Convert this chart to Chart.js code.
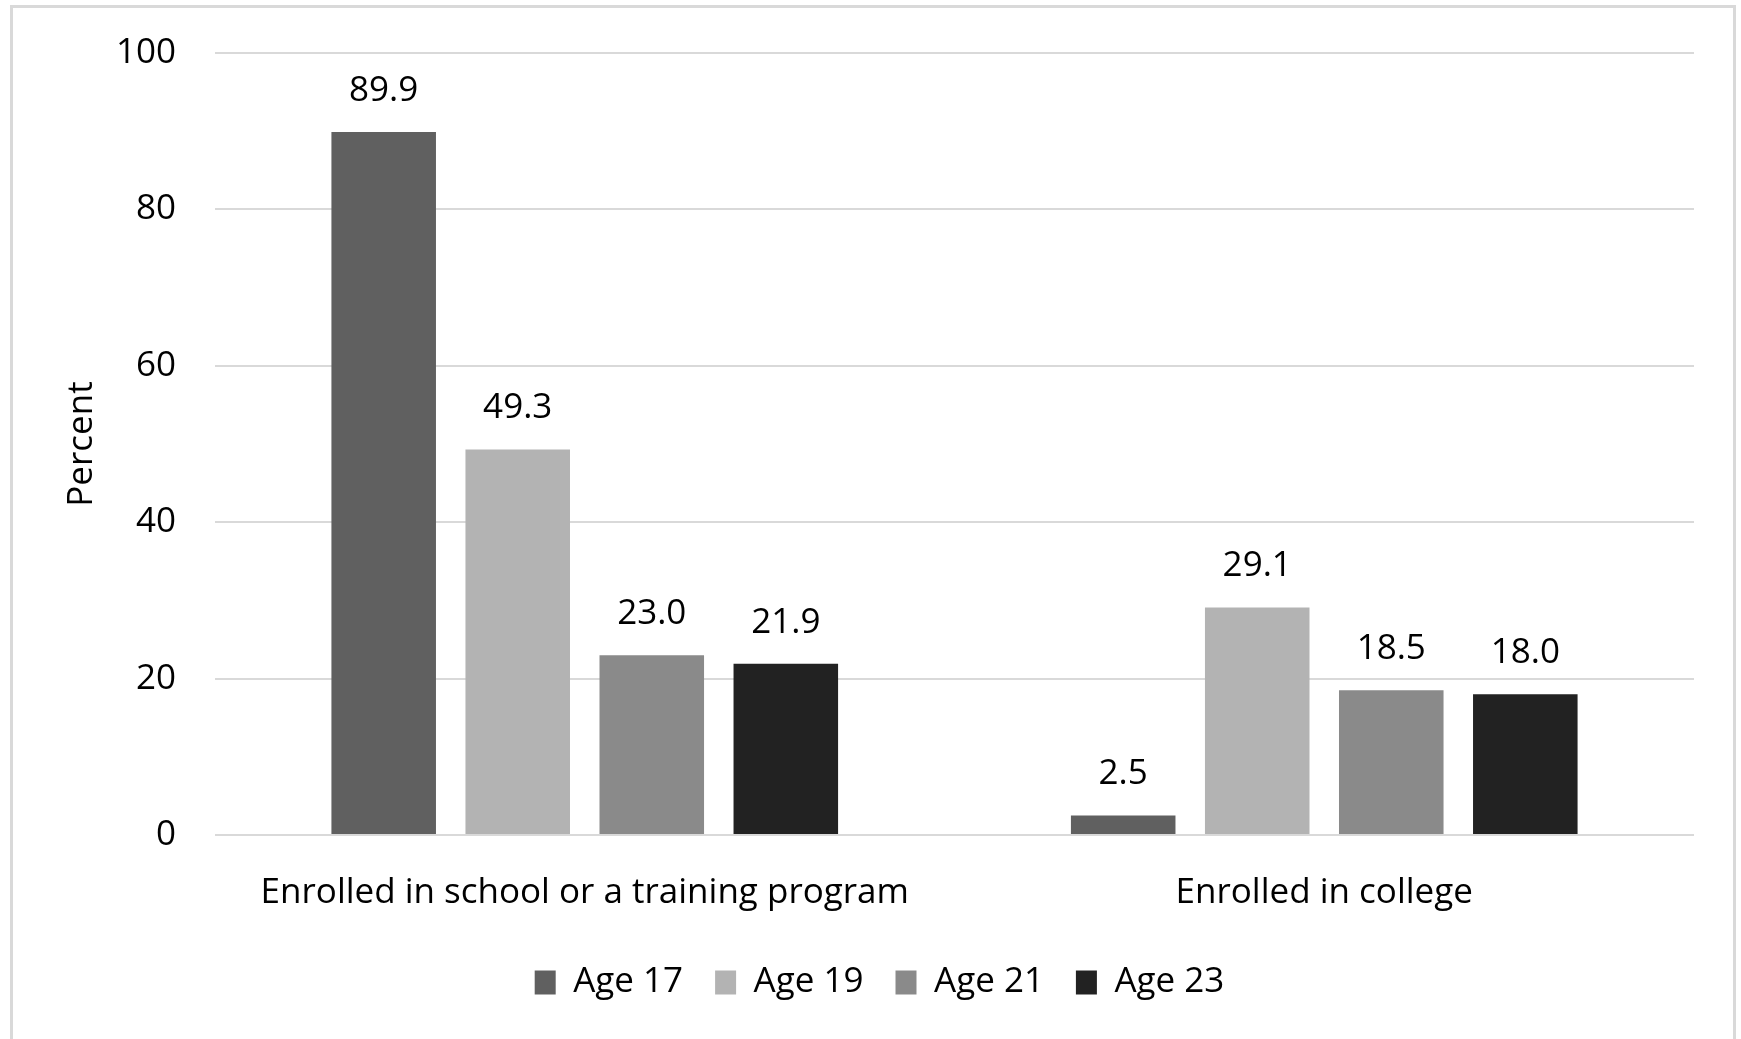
<!DOCTYPE html>
<html>
<head>
<meta charset="utf-8">
<script src="https://cdn.jsdelivr.net/npm/chart.js@4.4.1/dist/chart.umd.min.js"></script>
<style>
  html, body { margin: 0; padding: 0; background: #fff; overflow: hidden; }
  #wrap { position: relative; width: 1741px; height: 1039px; }
  #wrap canvas { position: absolute; left: 0; top: 0; }
  #frame {
    position: absolute; left: 10px; top: 5px; width: 1726px; height: 1100px;
    border: 3px solid #d9d9d9; box-sizing: border-box; pointer-events: none;
  }
</style>
</head>
<body>
<div id="wrap">
  <canvas id="chart" width="1741" height="1039"></canvas>
  <div id="frame"></div>
</div>
<script>
// Enrollment share by age, in percent
const categories = ['Enrolled in school or a training program', 'Enrolled in college'];
const seriesNames = ['Age 17', 'Age 19', 'Age 21', 'Age 23'];
const age17 = [89.9, 2.5];
const age19 = [49.3, 29.1];
const age21 = [23.0, 18.5];
const age23 = [21.9, 18.0];
const yTicks = [0, 20, 40, 60, 80, 100];

const seriesValues = [age17, age19, age21, age23];
const seriesColors = ['#606060', '#b3b3b3', '#8a8a8a', '#222222'];
const FONT = "'Open Sans', 'Noto Sans', sans-serif";

// Writes each bar's value above it
const valueLabels = {
  id: 'valueLabels',
  afterDatasetsDraw(chart) {
    const ctx = chart.ctx;
    ctx.save();
    ctx.font = '35px ' + FONT;
    ctx.fillStyle = '#000';
    ctx.textAlign = 'center';
    ctx.textBaseline = 'alphabetic';
    chart.data.datasets.forEach((ds, i) => {
      chart.getDatasetMeta(i).data.forEach((bar, j) => {
        ctx.fillText(ds.data[j].toFixed(1), bar.x, bar.y - 31);
      });
    });
    ctx.restore();
  }
};

new Chart(document.getElementById('chart'), {
  type: 'bar',
  data: {
    labels: categories,
    datasets: seriesNames.map((name, i) => ({
      label: name,
      data: seriesValues[i],
      backgroundColor: seriesColors[i],
      borderWidth: 0,
      categoryPercentage: 0.725,
      barPercentage: 0.78
    }))
  },
  options: {
    responsive: false,
    animation: false,
    layout: { padding: { left: 65, right: 47, top: 53, bottom: 29 } },
    plugins: {
      tooltip: { enabled: false },
      legend: {
        position: 'bottom',
        labels: {
          boxWidth: 21,
          boxHeight: 24,
          padding: 32,
          color: '#000',
          font: { family: FONT, size: 35 }
        }
      }
    },
    scales: {
      x: {
        grid: { display: false },
        border: { display: false },
        ticks: {
          color: '#000',
          padding: 29,
          maxRotation: 0,
          font: { family: FONT, size: 35 }
        },
        afterFit(scale) { scale.height = 98; }
      },
      y: {
        min: 0,
        max: 100,
        afterBuildTicks(scale) { scale.ticks = yTicks.map(v => ({ value: v })); },
        grid: { color: '#d9d9d9', lineWidth: 2, drawTicks: false },
        border: { display: false },
        ticks: {
          color: '#000',
          padding: 39,
          font: { family: FONT, size: 35 }
        },
        title: {
          display: true,
          text: 'Percent',
          color: '#000',
          padding: 0,
          font: { family: FONT, size: 35, lineHeight: 1.0 }
        },
        afterFit(scale) {
          scale.width = 150;
          // the plot's top and bottom come from the layout padding alone
          scale.paddingTop = 0;
          scale.paddingBottom = 0;
        }
      }
    }
  },
  plugins: [valueLabels]
});
</script>
</body>
</html>
